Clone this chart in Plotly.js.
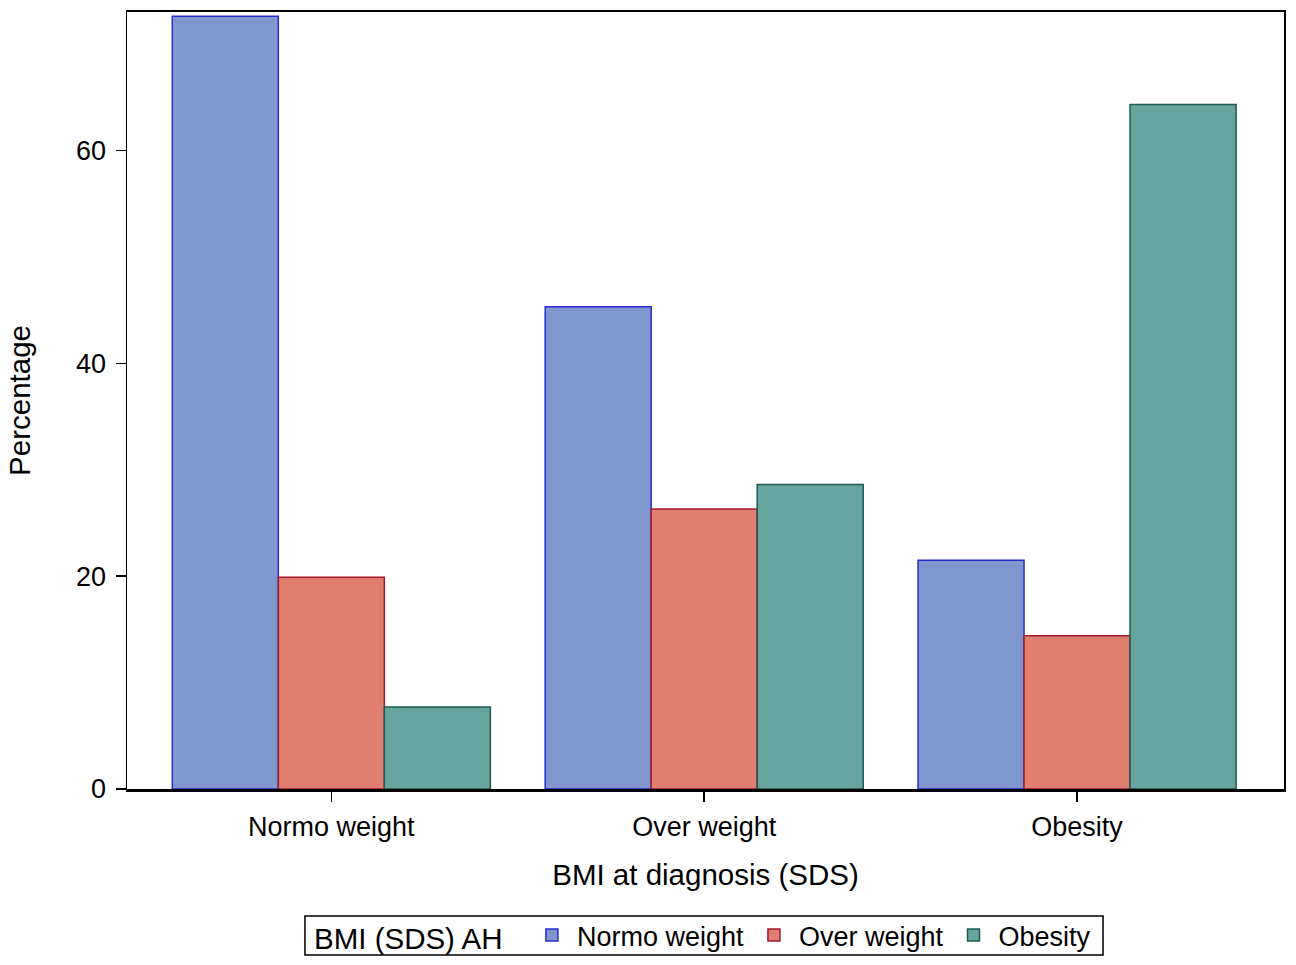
<!DOCTYPE html>
<html>
<head>
<meta charset="utf-8">
<script src="https://cdn.plot.ly/plotly-3.0.1.min.js"></script>
<style>html,body{margin:0;padding:0;background:#fff;}#chart{width:1296px;height:965px;}</style>
</head>
<body>
<div id="chart"></div>
<script>
const categories = ["Normo weight", "Over weight", "Obesity"];
const seriesNames = ["Normo weight", "Over weight", "Obesity"];
const normoValues = [72.6, 45.3, 21.5];
const overValues = [19.9, 26.3, 14.4];
const obesityValues = [7.7, 28.6, 64.3];
const yTicks = [0, 20, 40, 60];

const fills = ["#7F97CD", "#DE7F70", "#66A59D"];
const edges = ["#2B2BD0", "#A5182E", "#1E5A4E"];
const valuesList = [normoValues, overValues, obesityValues];

const traces = seriesNames.map((name, i) => ({
  type: "bar",
  name: name,
  x: categories,
  y: valuesList[i],
  marker: {color: fills[i], line: {color: edges[i], width: 1.5}},
  hoverinfo: "skip"
}));

const font = "Liberation Sans, Arial, sans-serif";
const layout = {
  width: 1296, height: 965,
  margin: {l: 127, r: 12, t: 12, b: 176, autoexpand: false},
  paper_bgcolor: "#fff", plot_bgcolor: "#fff",
  barmode: "group",
  bargap: 0.147, bargroupgap: 0,
  showlegend: true,
  font: {family: font, color: "#000"},
  xaxis: {
    range: [-0.548, 2.555],
    showline: true, linecolor: "#000", linewidth: 2.5, mirror: true,
    ticks: "outside", ticklen: 10, tickwidth: 1.5, tickcolor: "#000",
    tickfont: {size: 27, family: font}, ticklabelstandoff: 2,
    showgrid: false, zeroline: false, automargin: false,
    title: {text: "BMI at diagnosis (SDS)", font: {size: 29.5, family: font}, standoff: 24}
  },
  yaxis: {
    range: [0, 73],
    tickvals: yTicks, ticktext: yTicks.map(String),
    showline: true, linecolor: "#000", linewidth: 1.5, mirror: true,
    ticks: "outside", ticklen: 10, tickwidth: 1.5, tickcolor: "#000",
    tickfont: {size: 27, family: font}, ticklabelstandoff: 4,
    showgrid: false, zeroline: false, automargin: false,
    title: {text: "Percentage", font: {size: 29.5, family: font}, standoff: 36}
  },
  legend: {
    orientation: "h",
    x: 0.4987, xanchor: "center",
    y: -0.1885, yanchor: "middle",
    borderwidth: 0, bgcolor: "rgba(0,0,0,0)",
    font: {size: 27, family: font},
    itemwidth: 40,
    title: {text: "BMI (SDS) AH  ", font: {size: 29.5, family: font}, side: "left"},
    itemclick: false
  },
  shapes: [{
    type: "rect", xref: "paper", yref: "paper",
    x0: 0.1538, x1: 0.8436, y0: -0.2136, y1: -0.1634,
    line: {color: "#000", width: 1.5}, fillcolor: "rgba(0,0,0,0)"
  }]
};

Plotly.newPlot("chart", traces, layout, {displayModeBar: false, staticPlot: true});
</script>
</body>
</html>
